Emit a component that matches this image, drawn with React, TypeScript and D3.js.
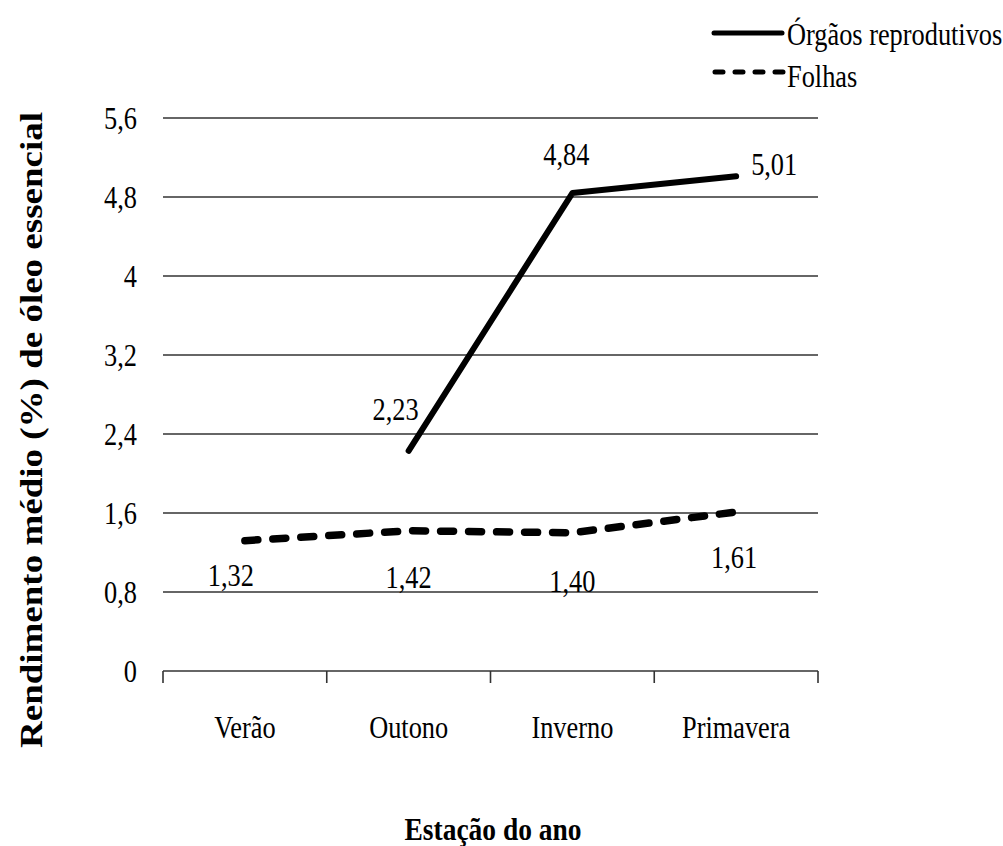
import React from "react";
import * as d3 from "d3";

const categories = ["Verão", "Outono", "Inverno", "Primavera"];
const orgaos: (number | null)[] = [null, 2.23, 4.84, 5.01];
const folhas: number[] = [1.32, 1.42, 1.40, 1.61];
const yTicks = [0, 0.8, 1.6, 2.4, 3.2, 4, 4.8, 5.6];
const orgaosLabels = ["", "2,23", "4,84", "5,01"];
const folhasLabels = ["1,32", "1,42", "1,40", "1,61"];

const FONT = "'Liberation Serif', 'Times New Roman', serif";
const SX = 0.85;

function T({ x, y, children, anchor = "middle", size = 31, weight = "normal" }: any) {
  return (
    <text
      transform={`translate(${x},${y}) scale(${SX},1)`}
      textAnchor={anchor}
      fontFamily={FONT}
      fontSize={size}
      fontWeight={weight}
      fill="#000"
    >
      {children}
    </text>
  );
}

export default function App() {
  const W = 1003, H = 846;
  const left = 163, right = 818, top = 118, bottom = 671;
  const x = d3.scaleBand<string>().domain(categories).range([left, right]);
  const y = d3.scaleLinear().domain([0, 5.6]).range([bottom, top]);
  const cx = (c: string) => (x(c) as number) + x.bandwidth() / 2;

  const line = d3
    .line<number | null>()
    .defined((d) => d != null)
    .x((_, i) => cx(categories[i]))
    .y((d) => y(d as number));

  const orgOff = [[0, 0], [-13, -31], [-6, -28], [15, -1]];
  const folOff = [[-14, 45], [0, 57], [0, 59], [-2, 56]];

  const bounds = x.domain().map((c) => x(c) as number).concat([right]);

  return (
    <svg width={W} height={H} style={{ position: "absolute", left: 0, top: 0 }}>
      <rect width={W} height={H} fill="#fff" />
      {yTicks.slice(1).map((t) => (
        <line key={t} x1={left} x2={right} y1={y(t)} y2={y(t)} stroke="#333" strokeWidth={1.6} />
      ))}
      <line x1={left} x2={right} y1={y(0)} y2={y(0)} stroke="#333" strokeWidth={1.6} />
      {bounds.map((b, i) => (
        <line key={i} x1={b} x2={b} y1={y(0)} y2={y(0) + 12} stroke="#333" strokeWidth={1.6} />
      ))}
      {yTicks.map((t) => (
        <T key={t} x={137} y={y(t) + 11} anchor="end">
          {String(t).replace(".", ",")}
        </T>
      ))}
      {categories.map((c) => (
        <T key={c} x={cx(c)} y={738}>
          {c}
        </T>
      ))}
      <path d={line(folhas) || ""} fill="none" stroke="#000" strokeWidth={7.5} strokeDasharray="13 15" strokeLinecap="round" />
      <path d={line(orgaos) || ""} fill="none" stroke="#000" strokeWidth={6} strokeLinecap="round" strokeLinejoin="round" />
      {orgaos.map((v, i) =>
        v == null ? null : i === 3 ? (
          <T key={i} x={cx(categories[i]) + orgOff[i][0]} y={y(v) + orgOff[i][1]} anchor="start">
            {orgaosLabels[i]}
          </T>
        ) : (
          <T key={i} x={cx(categories[i]) + orgOff[i][0]} y={y(v) + orgOff[i][1]}>
            {orgaosLabels[i]}
          </T>
        )
      )}
      {folhas.map((v, i) => (
        <T key={i} x={cx(categories[i]) + folOff[i][0]} y={y(v) + folOff[i][1]}>
          {folhasLabels[i]}
        </T>
      ))}
      <text
        transform={`translate(42,430) rotate(-90)`}
        textAnchor="middle"
        fontFamily={FONT}
        fontSize={31}
        fontWeight="bold"
        textLength={636}
        lengthAdjust="spacingAndGlyphs"
      >
        Rendimento médio (%) de óleo essencial
      </text>
      <text
        x={493}
        y={840}
        textAnchor="middle"
        fontFamily={FONT}
        fontSize={31}
        fontWeight="bold"
        textLength={177}
        lengthAdjust="spacingAndGlyphs"
      >
        Estação do ano
      </text>
      <line x1={714} x2={782} y1={33} y2={33} stroke="#000" strokeWidth={5} strokeLinecap="round" />
      <T x={787} y={45} anchor="start">Órgãos reprodutivos</T>
      <line x1={715} x2={784} y1={72} y2={72} stroke="#000" strokeWidth={5} strokeDasharray="8 12" strokeLinecap="round" />
      <T x={787} y={87} anchor="start">Folhas</T>
    </svg>
  );
}
